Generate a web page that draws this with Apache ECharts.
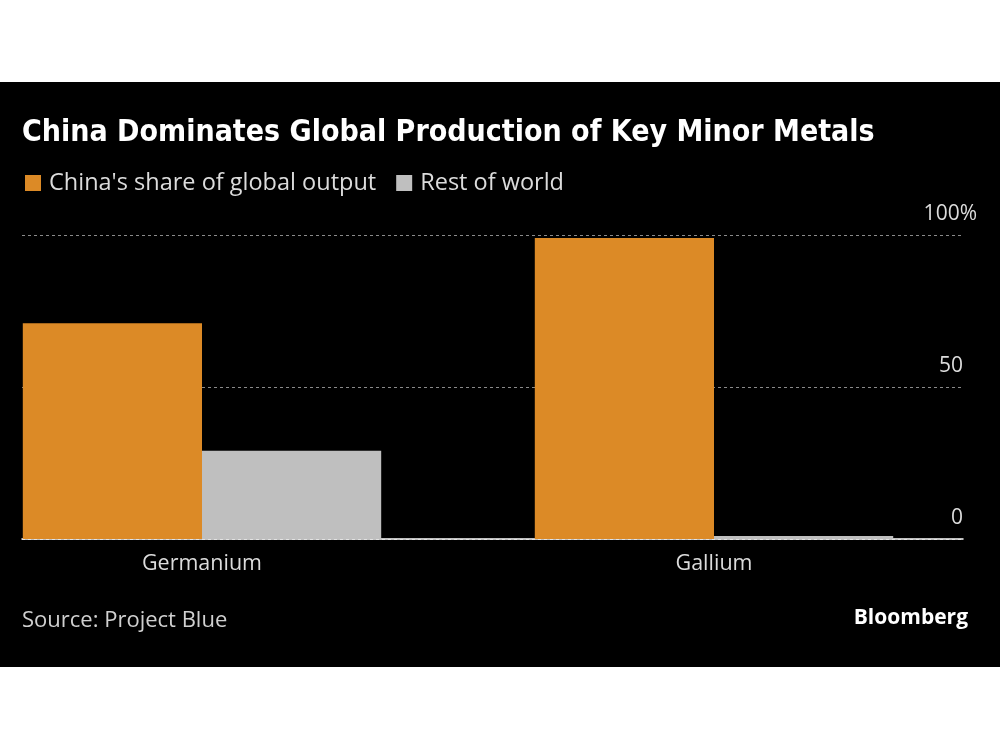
<!DOCTYPE html>
<html>
<head>
<meta charset="utf-8">
<script src="https://cdn.jsdelivr.net/npm/echarts@6/dist/echarts.min.js"></script>
<style>html,body{margin:0;padding:0;background:#fff;}#c{width:1000px;height:750px;}</style>
</head>
<body>
<div id="c"></div>
<script>
const categories = ['Germanium', 'Gallium'];
const chinaShare = [71, 99];
const restOfWorld = [29, 1];
const yTicks = [0, 50, 100];
const seriesNames = ["China's share of global output", 'Rest of world'];

const chart = echarts.init(document.getElementById('c'), null, {renderer: 'canvas'});
const FONT = '"Open Sans", "Noto Sans", sans-serif';
const option = {
  backgroundColor: '#ffffff',
  animation: false,
  graphic: [
    {type: 'rect', z: -10, silent: true, shape: {x: 0, y: 82, width: 1000, height: 585}, style: {fill: '#000000'}},
    {type: 'text', left: 22, top: 118, style: {text: 'China Dominates Global Production of Key Minor Metals', fill: '#ffffff', font: 'bold 30px "DejaVu Sans Condensed", "DejaVu Sans", sans-serif'}},
    {type: 'text', left: 22, top: 610, style: {text: 'Source: Project Blue', fill: '#d0d0d0', font: '22px ' + FONT}},
    {type: 'text', right: 32, top: 608, style: {text: 'Bloomberg', fill: '#ffffff', font: 'bold 21px "Open Sans", sans-serif'}}
  ],
  legend: {
    left: 20, top: 166, icon: 'rect', itemWidth: 16, itemHeight: 16, itemGap: 20,
    textStyle: {color: '#dcdcdc', fontSize: 23.5, fontFamily: FONT, padding: [0, 0, 0, 3]},
    data: seriesNames
  },
  grid: [
    {left: -54, right: 30, top: 235, height: 304, outerBoundsMode: 'none', containLabel: false},
    {left: 22, right: 37, top: 235, height: 304, outerBoundsMode: 'none', containLabel: false}
  ],
  xAxis: [
    {type: 'category', gridIndex: 0, data: categories,
     axisLine: {show: false}, axisTick: {show: false},
     axisLabel: {color: '#dcdcdc', fontSize: 21.5, fontFamily: FONT, margin: 14}},
    {type: 'category', gridIndex: 1, data: categories,
     axisLine: {show: true, lineStyle: {color: '#ffffff', width: 1.5}}, axisTick: {show: false}, axisLabel: {show: false}}
  ],
  yAxis: [
    {type: 'value', gridIndex: 0, min: 0, max: 100, show: false, splitLine: {show: false}},
    {type: 'value', gridIndex: 1, min: 0, max: 100, interval: 50, position: 'right',
     axisLine: {show: false}, axisTick: {show: false},
     splitLine: {show: true, lineStyle: {color: '#8a8a8a', type: [3, 3], width: 1}},
     axisLabel: {inside: true, margin: -14, verticalAlign: 'bottom', color: '#dcdcdc', fontSize: 21, fontFamily: FONT,
       formatter: v => v === 100 ? '{b|100%}' : '{a|' + v + '}',
       rich: {a: {fontSize: 21, fontFamily: FONT, color: '#dcdcdc', padding: [0, 14, 10, 0]},
              b: {fontSize: 21, fontFamily: FONT, color: '#dcdcdc', padding: [0, 0, 10, 0]}}}}
  ],
  series: [
    {name: seriesNames[0], type: 'bar', xAxisIndex: 0, yAxisIndex: 0, data: chinaShare,
     barGap: '0%', barCategoryGap: '30%', itemStyle: {color: '#DC8A26'}},
    {name: seriesNames[1], type: 'bar', xAxisIndex: 0, yAxisIndex: 0, data: restOfWorld,
     barGap: '0%', barCategoryGap: '30%', itemStyle: {color: '#BFBFBF'}}
  ]
};
chart.setOption(option);
</script>
</body>
</html>
